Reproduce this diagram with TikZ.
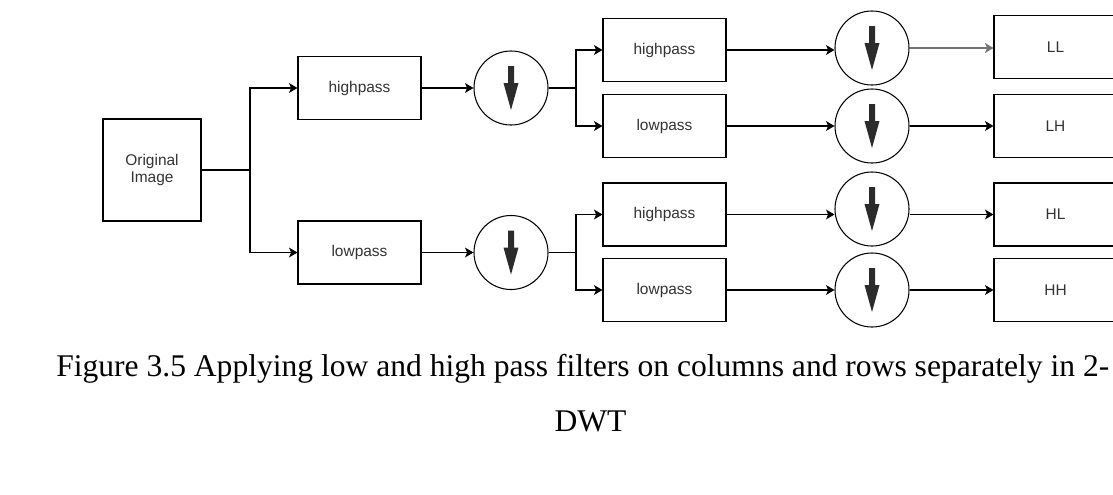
\documentclass[tikz,border=0pt]{standalone}
\usepackage{fontspec}
\usepackage{xcolor}
\usepackage{tikz}
\usetikzlibrary{arrows.meta}
\newfontfamily\boxfont{Liberation Sans}
\newfontfamily\capfont{Liberation Serif}
\definecolor{txtgray}{HTML}{333333}
\definecolor{arrgray}{HTML}{2B2B2B}

\begin{document}
\begin{tikzpicture}[x=0.025cm, y=-0.025cm,
  filterbox/.style={draw, line width=0.75pt, inner sep=0pt, minimum width=3.075cm, minimum height=1.575cm,
    font=\boxfont\fontsize{11}{12.2}\selectfont, text=txtgray, align=center},
  downsample/.style={draw, circle, line width=0.75pt, inner sep=0pt, minimum size=1.85cm,
    path picture={\fill[arrgray, shift={(path picture bounding box.center)}]
      (-3,-22) -- (3,-22) -- (3,-5) -- (7.5,-5) -- (0,22) -- (-7.5,-5) -- (-3,-5) -- cycle;}},
  conn/.style={line width=0.75pt, -{Stealth[length=6pt,width=7pt,inset=1.5pt]}},
  plain/.style={line width=0.75pt},
  caption/.style={inner sep=0pt, font=\capfont\fontsize{22.45}{26}\selectfont}]
\path[use as bounding box, clip] (0,0) rectangle (1113,494);
% first level
\node[filterbox, minimum width=2.45cm, minimum height=2.55cm] (orig) at (152,170) {Original\\Image};
\node[filterbox] (hp) at (359.5,88) {highpass};
\node[filterbox] (lp) at (359.5,252.5) {lowpass};
\node[downsample] (dh) at (511,88) {};
\node[downsample] (dl) at (511,252.5) {};
% second level
\node[filterbox] (hphp) at (664.5,50) {highpass};
\node[filterbox] (hplp) at (664.5,126) {lowpass};
\node[filterbox] (lphp) at (664.5,214.5) {highpass};
\node[filterbox] (lplp) at (664.5,290) {lowpass};
\node[downsample] (dhh) at (872,48) {};
\node[downsample] (dhl) at (872,126) {};
\node[downsample] (dlh) at (872,209) {};
\node[downsample] (dll) at (872,290) {};
% outputs
\node[filterbox] (LL) at (1055.5,47) {LL};
\node[filterbox] (LH) at (1055.5,126) {LH};
\node[filterbox] (HL) at (1055.5,214.5) {HL};
\node[filterbox] (HH) at (1055.5,290) {HH};
% caption
\node[caption, anchor=base west] (cap1) at (56,376) {Figure 3.5 Applying low and high pass filters on columns and rows separately in 2-};
\node[caption, anchor=base] (cap2) at (590.5,431) {DWT};
% splits
\coordinate (s0) at (250,170);
\coordinate (s1) at (576,88);
\coordinate (s2) at (576,252.5);
\draw[plain] (orig) -- (s0);
\draw[conn] (s0) |- (hp);
\draw[conn] (s0) |- (lp);
\draw[conn] (hp) -- (dh);
\draw[conn] (lp) -- (dl);
\draw[plain] (dh) -- (s1);
\draw[conn] (s1) |- (hphp);
\draw[conn] (s1) |- (hplp);
\draw[plain] (dl) -- (s2);
\draw[conn] (s2) |- (lphp);
\draw[conn] (s2) |- (lplp);
\draw[conn] (hphp.east) -- (hphp.east -| dhh.west);
\draw[conn] (hplp) -- (dhl);
\draw[conn] (lphp.east) -- (lphp.east -| dlh.west);
\draw[conn] (lplp) -- (dll);
\draw[conn, draw=black!55, line width=1.1pt] (dhh.east) -- (dhh.east -| LL.west);
\draw[conn] (dhl) -- (LH);
\draw[conn] (dlh.east |- HL.west) -- (HL.west);
\draw[conn] (dll) -- (HH);
\end{tikzpicture}
\end{document}
